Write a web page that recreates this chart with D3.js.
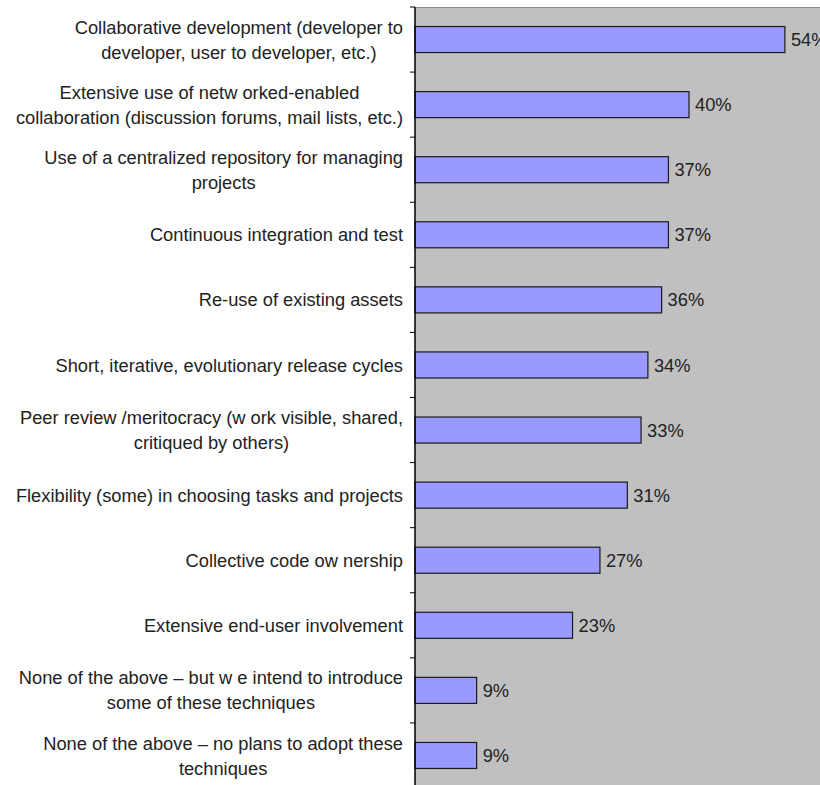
<!DOCTYPE html>
<html>
<head>
<meta charset="utf-8">
<script src="https://cdn.jsdelivr.net/npm/d3@7"></script>
<style>
  body { margin: 0; background: #fff; }
  svg text { font-family: "Liberation Sans", Arial, sans-serif; fill: #222; }
</style>
</head>
<body>
<div id="chart"></div>
<script>
// categories, each one a list of wrapped lines as in the picture
var categories = [
    ["Collaborative development (developer to", "developer, user to developer, etc.)"],
    ["Extensive use of netw orked-enabled", "collaboration (discussion forums, mail lists, etc.)"],
    ["Use of a centralized repository for managing", "projects"],
    ["Continuous integration and test"],
    ["Re-use of existing assets"],
    ["Short, iterative, evolutionary release cycles"],
    ["Peer review /meritocracy (w ork visible, shared,", "critiqued by others)"],
    ["Flexibility (some) in choosing tasks and projects"],
    ["Collective code ow nership"],
    ["Extensive end-user involvement"],
    ["None of the above \u2013 but w e intend to introduce", "some of these techniques"],
    ["None of the above \u2013 no plans to adopt these", "techniques"]
];
var values = [54, 40, 37, 37, 36, 34, 33, 31, 27, 23, 9, 9]; // percent
var xDomain = [0, 60];

var width = 820, height = 785;
var plotLeft = 415, plotTop = 7, plotRight = 826, plotBottom = 788;
var fontSize = 18.3;

var svg = d3.select("#chart").append("svg")
    .attr("width", width)
    .attr("height", height);

var x = d3.scaleLinear().domain(xDomain).range([plotLeft, plotRight]);
var y = d3.scaleBand()
    .domain(d3.range(categories.length))
    .range([plotTop, plotBottom])
    .paddingInner(0.6)
    .paddingOuter(0.3);

// gray plot area
svg.append("rect")
    .attr("x", plotLeft)
    .attr("y", plotTop)
    .attr("width", plotRight - plotLeft)
    .attr("height", plotBottom - plotTop)
    .attr("fill", "#c0c0c0");
svg.append("line")
    .attr("x1", plotLeft).attr("x2", plotRight)
    .attr("y1", plotTop + 0.5).attr("y2", plotTop + 0.5)
    .attr("stroke", "#8a8a8a");

// bars
svg.selectAll("rect.bar")
    .data(values)
    .enter()
    .append("rect")
    .attr("class", "bar")
    .attr("x", x(0))
    .attr("y", function(d, i) { return y(i); })
    .attr("width", function(d) { return x(d) - x(0); })
    .attr("height", y.bandwidth())
    .attr("fill", "#9999ff")
    .attr("stroke", "#1a1a1a")
    .attr("stroke-width", 1.2);

// value labels
svg.selectAll("text.val")
    .data(values)
    .enter()
    .append("text")
    .attr("class", "val")
    .attr("x", function(d) { return x(d) + 6; })
    .attr("y", function(d, i) { return y(i) + y.bandwidth() / 2; })
    .attr("dy", "0.36em")
    .attr("font-size", fontSize)
    .text(function(d) { return d + "%"; });

// category axis: ticks at band boundaries
var step = y.step();
var tickYs = d3.range(categories.length + 1).map(function(i) {
    return plotTop + i * step;
});
svg.selectAll("line.tick")
    .data(tickYs)
    .enter()
    .append("line")
    .attr("x1", plotLeft - 5)
    .attr("x2", plotLeft)
    .attr("y1", function(d) { return d; })
    .attr("y2", function(d) { return d; })
    .attr("stroke", "#000");
svg.append("line")
    .attr("x1", plotLeft).attr("x2", plotLeft)
    .attr("y1", plotTop).attr("y2", plotBottom)
    .attr("stroke", "#000")
    .attr("stroke-width", 1.5);

// category labels: block right-aligned, lines centered within the block
var lineHeight = 25;
var labelRight = 403;
categories.forEach(function(lines, i) {
    var cy = y(i) + y.bandwidth() / 2;
    var g = svg.append("g");
    var texts = lines.map(function(t, j) {
        return g.append("text")
            .attr("font-size", fontSize)
            .attr("text-anchor", "middle")
            .attr("y", cy + (j - (lines.length - 1) / 2) * lineHeight)
            .attr("dy", "0.36em")
            .text(t);
    });
    var maxW = d3.max(texts, function(t) { return t.node().getComputedTextLength(); });
    texts.forEach(function(t) { t.attr("x", labelRight - maxW / 2); });
});
</script>
</body>
</html>
